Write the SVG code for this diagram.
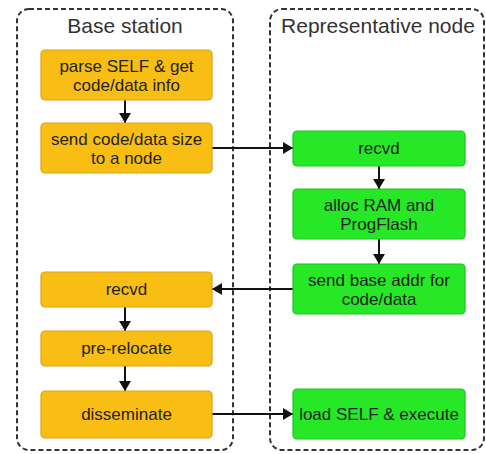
<svg xmlns="http://www.w3.org/2000/svg" width="486" height="454" viewBox="0 0 486 454">
<defs>
<marker id="ah" viewBox="0 0 10 12" refX="10" refY="6" markerWidth="10" markerHeight="12" markerUnits="userSpaceOnUse" orient="auto">
<path d="M0,0 L10,6 L0,12 Z" fill="#111"/>
</marker>
<style>
.lane{fill:#fff;stroke:#333;stroke-width:2;stroke-dasharray:5,3}
.title{font-family:"Liberation Sans",Arial,sans-serif;font-size:21px;fill:#333;text-anchor:middle}
.o{fill:#F8BE14;stroke:#D9A418;stroke-width:1.2}
.g{fill:#26E826;stroke:#20C020;stroke-width:1.2}
.t{font-family:"Liberation Sans",Arial,sans-serif;font-size:17px;fill:#222;text-anchor:middle}
.c{stroke:#111;stroke-width:2;fill:none;marker-end:url(#ah)}
</style>
</defs>
<rect width="486" height="454" fill="#fff"/>
<g id="lane-base">
<rect class="lane" x="17" y="9" width="216" height="441" rx="12"/>
<text class="title" x="125" y="33">Base station</text>
</g>
<g id="lane-rep">
<rect class="lane" x="270" y="9" width="214" height="441" rx="12"/>
<text class="title" x="378" y="33">Representative node</text>
</g>
<g id="connectors">
<line class="c" x1="125" y1="100" x2="125" y2="123"/>
<line class="c" x1="212" y1="148" x2="293" y2="148"/>
<line class="c" x1="379" y1="166" x2="379" y2="189"/>
<line class="c" x1="379" y1="239" x2="379" y2="264"/>
<line class="c" x1="293" y1="289" x2="212" y2="289"/>
<line class="c" x1="125" y1="307" x2="125" y2="331"/>
<line class="c" x1="125" y1="366" x2="125" y2="391"/>
<line class="c" x1="212" y1="414" x2="293" y2="414"/>
</g>
<g id="parse">
<rect class="o" x="41" y="50" width="171" height="50" rx="4"/>
<text class="t" x="126.5" y="72">parse SELF &amp; get</text>
<text class="t" x="126.5" y="91">code/data info</text>
</g>
<g id="sendsize">
<rect class="o" x="41" y="123" width="171" height="50" rx="4"/>
<text class="t" x="126.5" y="145">send code/data size</text>
<text class="t" x="126.5" y="164">to a node</text>
</g>
<g id="recvd-base">
<rect class="o" x="41" y="272" width="171" height="35" rx="4"/>
<text class="t" x="126.5" y="295">recvd</text>
</g>
<g id="prerelocate">
<rect class="o" x="41" y="331" width="171" height="35" rx="4"/>
<text class="t" x="126.5" y="354">pre-relocate</text>
</g>
<g id="disseminate">
<rect class="o" x="41" y="391" width="171" height="47" rx="4"/>
<text class="t" x="126.5" y="420">disseminate</text>
</g>
<g id="recvd-rep">
<rect class="g" x="293" y="131" width="172" height="35" rx="4"/>
<text class="t" x="379" y="154">recvd</text>
</g>
<g id="alloc">
<rect class="g" x="293" y="189" width="172" height="50" rx="4"/>
<text class="t" x="379" y="211">alloc RAM and</text>
<text class="t" x="379" y="230">ProgFlash</text>
</g>
<g id="sendbase">
<rect class="g" x="293" y="264" width="172" height="50" rx="4"/>
<text class="t" x="379" y="286">send base addr for</text>
<text class="t" x="379" y="305">code/data</text>
</g>
<g id="load">
<rect class="g" x="293" y="389" width="172" height="50" rx="4"/>
<text class="t" x="379" y="420">load SELF &amp; execute</text>
</g>
</svg>
